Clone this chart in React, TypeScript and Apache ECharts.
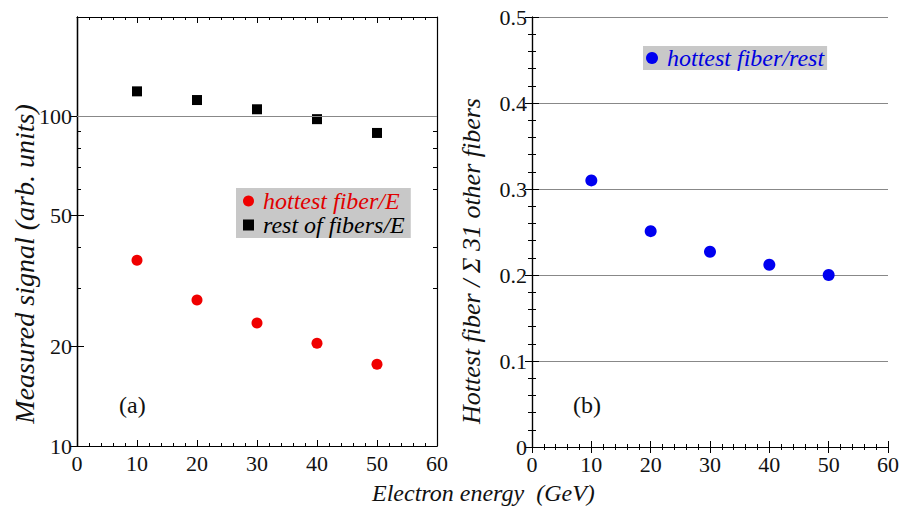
import React, { useEffect, useRef } from "react";
import * as echarts from "echarts";

const energies = [10, 20, 30, 40, 50];
const hottestOverE = [36.6, 27.7, 23.6, 20.5, 17.7];
const restOverE = [119, 112, 105, 98, 89];
const hottestOverRest = [0.31, 0.251, 0.227, 0.212, 0.2];

const leftMajorTicks = [10, 20, 50, 100];
const leftMinorTicks = [30, 40, 60, 70, 80, 90];

const FONT = "Liberation Serif";

export default function App() {
  const ref = useRef<HTMLDivElement>(null);
  useEffect(() => {
    if (!ref.current) return;
    const chart = echarts.init(ref.current, null, { renderer: "svg" });
    const axisLine = { show: true, lineStyle: { color: "#000", width: 1.2 } };
    const tickLabel = { fontFamily: FONT, fontSize: 22, color: "#111" };
    const xCommon = (grid: number, pos: "bottom" | "top") => ({
      type: "value",
      gridIndex: grid,
      position: pos,
      min: 0,
      max: 60,
      interval: 10,
      axisLine,
      axisTick: { show: true, inside: true, length: 6, lineStyle: { color: "#000" } },
      minorTick: { show: true, splitNumber: 5, length: 3, lineStyle: { color: "#000" } },
      splitLine: { show: false },
      axisLabel: pos === "bottom" ? { ...tickLabel, margin: 6 } : { show: false },
    });
    const leftY = (pos: "left" | "right", minor: boolean) => ({
      type: "log",
      logBase: 10,
      gridIndex: 0,
      position: pos,
      min: 10,
      max: 200,
      axisLine,
      axisTick: {
        show: true,
        inside: true,
        length: minor ? 4 : 7,
        customValues: minor ? leftMinorTicks : leftMajorTicks,
        lineStyle: { color: "#000" },
      },
      splitLine: { show: false },
      axisLabel:
        pos === "left" && !minor
          ? { ...tickLabel, margin: 5, customValues: leftMajorTicks }
          : { show: false },
    });
    const rightY = (pos: "left" | "right") => ({
      type: "value",
      gridIndex: 1,
      position: pos,
      min: 0,
      max: 0.5,
      interval: 0.1,
      axisLine,
      axisTick: { show: true, inside: true, length: 7, lineStyle: { color: "#000" } },
      minorTick: { show: true, splitNumber: 5, length: 4, lineStyle: { color: "#000" } },
      splitLine:
        pos === "left"
          ? { show: true, lineStyle: { color: "#888", width: 1 } }
          : { show: false },
      axisLabel: pos === "left" ? { ...tickLabel, margin: 5 } : { show: false },
    });
    const legendText = { fontFamily: FONT, fontSize: 24, fontStyle: "italic", padding: [0, 0, 0, 4] };
    const option = {
      animation: false,
      backgroundColor: "#fff",
      grid: [
        { left: 77, top: 17, width: 360, height: 429 },
        { left: 532, top: 17, width: 359, height: 430 },
      ],
      xAxis: [xCommon(0, "bottom"), xCommon(0, "top"), xCommon(1, "bottom"), xCommon(1, "top")],
      yAxis: [
        leftY("left", false),
        leftY("right", false),
        leftY("left", true),
        leftY("right", true),
        rightY("left"),
        rightY("right"),
      ],
      legend: [
        {
          left: 236,
          top: 188,
          orient: "vertical",
          backgroundColor: "#c8c8c8",
          padding: [1, 6, 1, 7],
          itemGap: 0,
          itemWidth: 11,
          itemHeight: 11,
          textStyle: legendText,
          data: [
            { name: "hottest fiber/E", icon: "circle", textStyle: { color: "#e00000" } },
            { name: "rest of fibers/E", icon: "rect", textStyle: { color: "#000" } },
          ],
        },
        {
          left: 643,
          top: 46,
          orient: "vertical",
          backgroundColor: "#c8c8c8",
          padding: [0, 3, 0, 3],
          itemWidth: 12,
          itemHeight: 12,
          textStyle: legendText,
          data: [{ name: "hottest fiber/rest", icon: "circle", textStyle: { color: "#0000e0" } }],
        },
      ],
      graphic: [
        {
          type: "text",
          x: 24,
          y: 264,
          rotation: Math.PI / 2,
          style: {
            text: "Measured signal (arb. units)",
            fontFamily: FONT,
            fontSize: 28,
            fontStyle: "italic",
            fill: "#111",
            align: "center",
            verticalAlign: "middle",
          },
        },
        {
          type: "text",
          x: 471,
          y: 261,
          rotation: Math.PI / 2,
          style: {
            text: "Hottest fiber / \u03a3 31 other fibers",
            fontFamily: FONT,
            fontSize: 26,
            fontStyle: "italic",
            fill: "#111",
            align: "center",
            verticalAlign: "middle",
          },
        },
        {
          type: "text",
          left: 119,
          top: 393,
          style: { text: "(a)", fontFamily: FONT, fontSize: 24, fill: "#111" },
        },
        {
          type: "text",
          left: 573,
          top: 393,
          style: { text: "(b)", fontFamily: FONT, fontSize: 24, fill: "#111" },
        },
        {
          type: "text",
          left: 372,
          top: 481,
          style: {
            text: "Electron energy  (GeV)",
            fontFamily: FONT,
            fontSize: 24,
            fontStyle: "italic",
            fill: "#111",
          },
        },
      ],
      series: [
        {
          name: "hottest fiber/E",
          type: "scatter",
          xAxisIndex: 0,
          yAxisIndex: 0,
          symbol: "circle",
          symbolSize: 11,
          itemStyle: { color: "#f00000", opacity: 1 },
          data: energies.map((e, i) => [e, hottestOverE[i]]),
        },
        {
          name: "rest of fibers/E",
          type: "scatter",
          xAxisIndex: 0,
          yAxisIndex: 0,
          symbol: "rect",
          symbolSize: 10,
          itemStyle: { color: "#000", opacity: 1 },
          data: energies.map((e, i) => [e, restOverE[i]]),
          markLine: {
            silent: true,
            symbol: "none",
            label: { show: false },
            lineStyle: { color: "#888", width: 1, type: "solid" },
            data: [{ yAxis: 100 }],
          },
        },
        {
          name: "hottest fiber/rest",
          type: "scatter",
          xAxisIndex: 2,
          yAxisIndex: 4,
          symbol: "circle",
          symbolSize: 12,
          itemStyle: { color: "#0000f0", opacity: 1 },
          data: energies.map((e, i) => [e, hottestOverRest[i]]),
        },
      ],
    };
    chart.setOption(option as any);
    return () => chart.dispose();
  }, []);
  return (
    <div
      ref={ref}
      style={{ position: "fixed", left: 0, top: 0, width: 902, height: 507 }}
    />
  );
}
